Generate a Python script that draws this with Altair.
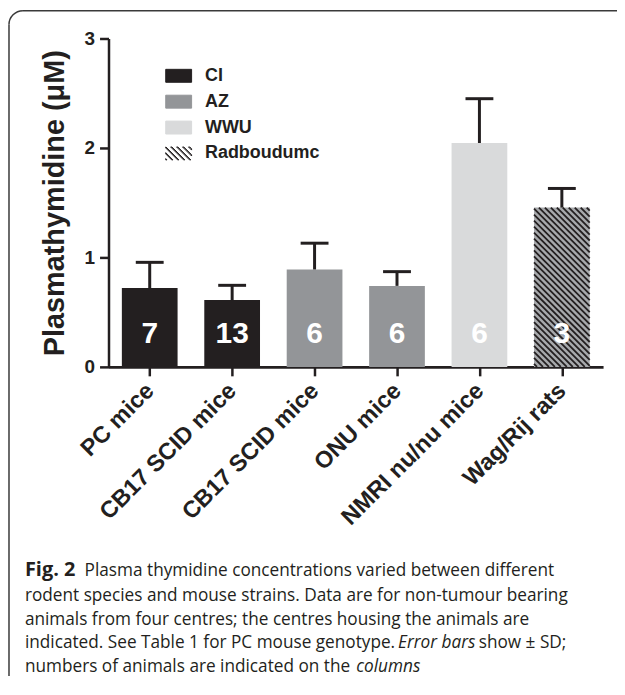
import json
import math
import numpy as np
import pandas as pd
import altair as alt

# ---------------- data ----------------
categories = ["PC mice", "CB17 SCID mice", "CB17 SCID mice", "ONU mice", "NMRI nu/nu mice", "Wag/Rij rats"]
centres = ["CI", "CI", "AZ", "AZ", "WWU", "Radboudumc"]
means = [0.72, 0.61, 0.89, 0.74, 2.045, 1.455]
sds = [0.235, 0.135, 0.24, 0.13, 0.405, 0.175]
counts = [7, 13, 6, 6, 6, 3]

centre_names = ["CI", "AZ", "WWU", "Radboudumc"]
centre_colors = ["#231f20", "#939598", "#d9dadb", "#a7a9ac"]
centre_strokes = ["#231f20", "#939598", "#d9dadb", "#231f20"]

caption_lines = [
    "rodent species and mouse strains. Data are for non-tumour bearing",
    "animals from four centres; the centres housing the animals are",
]

# ---------------- layout constants ----------------
W, H = 497, 330
X_DOMAIN = [-0.5, 5.5]
Y_DOMAIN = [0, 3]
px_x = W / (X_DOMAIN[1] - X_DOMAIN[0])
px_y = H / (Y_DOMAIN[1] - Y_DOMAIN[0])
BAR_HALF = 28 / px_x
CAP_HALF = 14 / px_x
INK = "#231f20"
FRAME = "#3a3a3a"
FONT = "Liberation Sans"
CAP_FONT = "Open Sans"
CAP_SIZE = 17.3

df = pd.DataFrame({
    "idx": list(range(len(categories))),
    "category": categories,
    "centre": centres,
    "mean": means,
    "sd": sds,
    "n": [str(c) for c in counts],
})

xscale = alt.Scale(domain=X_DOMAIN, nice=False, zero=False)
yscale = alt.Scale(domain=Y_DOMAIN, nice=False, zero=False)

label_expr = json.dumps(categories) + "[datum.value]"

x_axis = alt.Axis(
    values=list(range(len(categories))), labelExpr=label_expr, title=None,
    labelAngle=315, labelAlign="right", labelBaseline="middle",
    labelFontSize=23.5, labelFontWeight="bold", labelFont=FONT, labelColor=INK,
    labelPadding=11, tickSize=9, tickWidth=2.5, tickColor=INK,
    domainWidth=3, domainColor=INK, grid=False,
    labelOverlap=False, labelFlush=False, labelBound=False, labelLimit=400)
y_axis = alt.Axis(
    values=[0, 1, 2, 3], format="d", title="Plasmathymidine (\u03bcM)",
    titleFontSize=29, titleFont=FONT, titleFontWeight="bold", titleColor=INK,
    titlePadding=15,
    labelFontSize=19, labelFontWeight="bold", labelFont=FONT, labelColor=INK,
    labelPadding=5, tickSize=9, tickWidth=2.5, tickColor=INK,
    domainWidth=2.5, domainColor=INK, grid=False)


def X(f):
    return alt.X(f, scale=xscale, axis=x_axis)


def Y(f):
    return alt.Y(f, scale=yscale, axis=y_axis)


base = alt.Chart(df).transform_calculate(
    left=f"datum.idx - {BAR_HALF}",
    right=f"datum.idx + {BAR_HALF}",
    top="datum.mean + datum.sd",
    capl=f"datum.idx - {CAP_HALF}",
    capr=f"datum.idx + {CAP_HALF}",
)

# legend symbols: rectangles, and a striped one for the hatched centre
rect_path = "M-1,-0.5H1V0.5H-1Z"


def clip_poly(poly, xmin, xmax, ymin, ymax):
    def clip(pts, inside, inter):
        out = []
        for k in range(len(pts)):
            p, q = pts[k - 1], pts[k]
            if inside(q):
                if not inside(p):
                    out.append(inter(p, q))
                out.append(q)
            elif inside(p):
                out.append(inter(p, q))
        return out

    def ix(xc):
        return lambda p, q: (xc, p[1] + (q[1] - p[1]) * (xc - p[0]) / (q[0] - p[0]))

    def iy(yc):
        return lambda p, q: (p[0] + (q[0] - p[0]) * (yc - p[1]) / (q[1] - p[1]), yc)

    pts = poly
    for inside, inter in [
        (lambda p: p[0] >= xmin, ix(xmin)),
        (lambda p: p[0] <= xmax, ix(xmax)),
        (lambda p: p[1] >= ymin, iy(ymin)),
        (lambda p: p[1] <= ymax, iy(ymax)),
    ]:
        if pts:
            pts = clip(pts, inside, inter)
    return pts


stripe_parts = []
sw = 0.1
for c0 in np.arange(-2.0, 1.6, 0.46):
    poly = [(c0, -0.5), (c0 + sw, -0.5), (c0 + sw + 1, 0.5), (c0 + 1, 0.5)]
    pts = clip_poly(poly, -1, 1, -0.5, 0.5)
    if len(pts) >= 3:
        stripe_parts.append("M" + "L".join(f"{x:.3f},{y:.3f}" for x, y in pts) + "Z")
hatch_path = "".join(stripe_parts)
legend_shapes = [rect_path, rect_path, rect_path, hatch_path]


def mk_legend():
    return alt.Legend(title=None, orient="none", legendX=57, legendY=24)


fill_scale = alt.Scale(domain=centre_names, range=centre_colors)

bars = base.mark_bar().encode(
    x=X("left:Q"), x2="right:Q",
    y=Y("mean:Q"), y2=alt.datum(0),
    fill=alt.Fill("centre:N", scale=fill_scale, legend=mk_legend()),
)

legend_layer = alt.Chart(df).transform_filter("false").mark_point(
    filled=True, opacity=1, strokeWidth=1
).encode(
    fill=alt.Fill("centre:N", scale=fill_scale, legend=mk_legend()),
    shape=alt.Shape("centre:N", scale=alt.Scale(domain=centre_names, range=legend_shapes),
                    legend=mk_legend()),
    stroke=alt.Stroke("centre:N", scale=alt.Scale(domain=centre_names, range=centre_strokes),
                      legend=mk_legend()),
)

err = base.mark_rule(strokeWidth=3, color=INK).encode(
    x=X("idx:Q"), y=Y("mean:Q"), y2="top:Q",
)
caps = base.mark_rule(strokeWidth=3, color=INK).encode(
    x=X("capl:Q"), x2="capr:Q", y=Y("top:Q"),
)

nums = base.mark_text(color="white", fontSize=30, fontWeight="bold", font=FONT,
                      baseline="alphabetic", dy=-24).encode(
    x=X("idx:Q"), y=alt.Y(datum=0, scale=yscale, axis=y_axis), text="n:N",
)

# hatch pattern for the hatched (Radboudumc) bar
hatch_rows = []
spacing = 6.0
for i, (c, m) in enumerate(zip(centres, means)):
    if c != "Radboudumc":
        continue
    Wb = 2 * BAR_HALF * px_x
    Hb = m * px_y
    left = i - BAR_HALF
    for cc in np.arange(spacing / 2, Wb + Hb, spacing):
        ua = max(0.0, cc - Hb)
        ub = min(Wb, cc)
        if ub <= ua:
            continue
        hatch_rows.append({
            "x1": left + ua / px_x, "y1": (cc - ua) / px_y,
            "x2": left + ub / px_x, "y2": (cc - ub) / px_y,
        })
hatch = alt.Chart(pd.DataFrame(hatch_rows)).mark_rule(strokeWidth=1.8, color=INK).encode(
    x=X("x1:Q"), x2="x2:Q", y=Y("y1:Q"), y2="y2:Q",
)

# frame around the figure: left edge, top edge and rounded top-left corner
one = pd.DataFrame({"a": [0]})
FX, FY, FR, FW = -100, -28, 14, 1.5
frame_left = alt.Chart(one).mark_rule(color=FRAME, strokeWidth=FW).encode(
    x=alt.value(FX), y=alt.value(FY + FR), y2=alt.value(720))
frame_top = alt.Chart(one).mark_rule(color=FRAME, strokeWidth=FW).encode(
    x=alt.value(FX + FR), x2=alt.value(560), y=alt.value(FY))
frame_corner = alt.Chart(one).mark_arc(
    color=FRAME, radius=FR + FW / 2, radius2=FR - FW / 2,
    theta=1.5 * math.pi, theta2=2 * math.pi,
).encode(x=alt.value(FX + FR), y=alt.value(FY + FR))


def cap_text(txt, x, y, weight="normal", style="normal", size=CAP_SIZE):
    return alt.Chart(one).mark_text(
        text=txt, align="left", baseline="alphabetic", font=CAP_FONT, fontSize=size,
        fontWeight=weight, fontStyle=style, color=INK
    ).encode(x=alt.value(x), y=alt.value(y))


LX = -84
caption = [
    cap_text("Fig. 2", LX, 540, weight="bold", size=20),
    cap_text("Plasma thymidine concentrations varied between different", -24, 540),
    cap_text(caption_lines[0], LX, 565),
    cap_text(caption_lines[1], LX, 589),
    cap_text("indicated. See Table 1 for PC mouse genotype.", LX, 613),
    cap_text("Error bars", 291, 613, style="italic"),
    cap_text("show \u00b1 SD;", 372, 613),
    cap_text("numbers of animals are indicated on the", LX, 637),
    cap_text("columns", 249, 637, style="italic"),
]

chart = alt.layer(
    frame_left, frame_top, frame_corner,
    bars, hatch, err, caps, nums, legend_layer, *caption
).properties(
    width=W, height=H,
    autosize=alt.AutoSizeParams(type="none"),
    padding={"left": 101, "top": 29, "right": 14, "bottom": 309},
).configure_view(stroke=None).configure_legend(
    symbolSize=676, symbolStrokeWidth=1, labelFont=FONT, labelFontSize=18,
    labelFontWeight="bold", labelColor=INK, labelOffset=13, rowPadding=3,
    padding=0, labelLimit=300,
)

chart.save("out.html", embed_options={"renderer": "svg", "actions": False})
